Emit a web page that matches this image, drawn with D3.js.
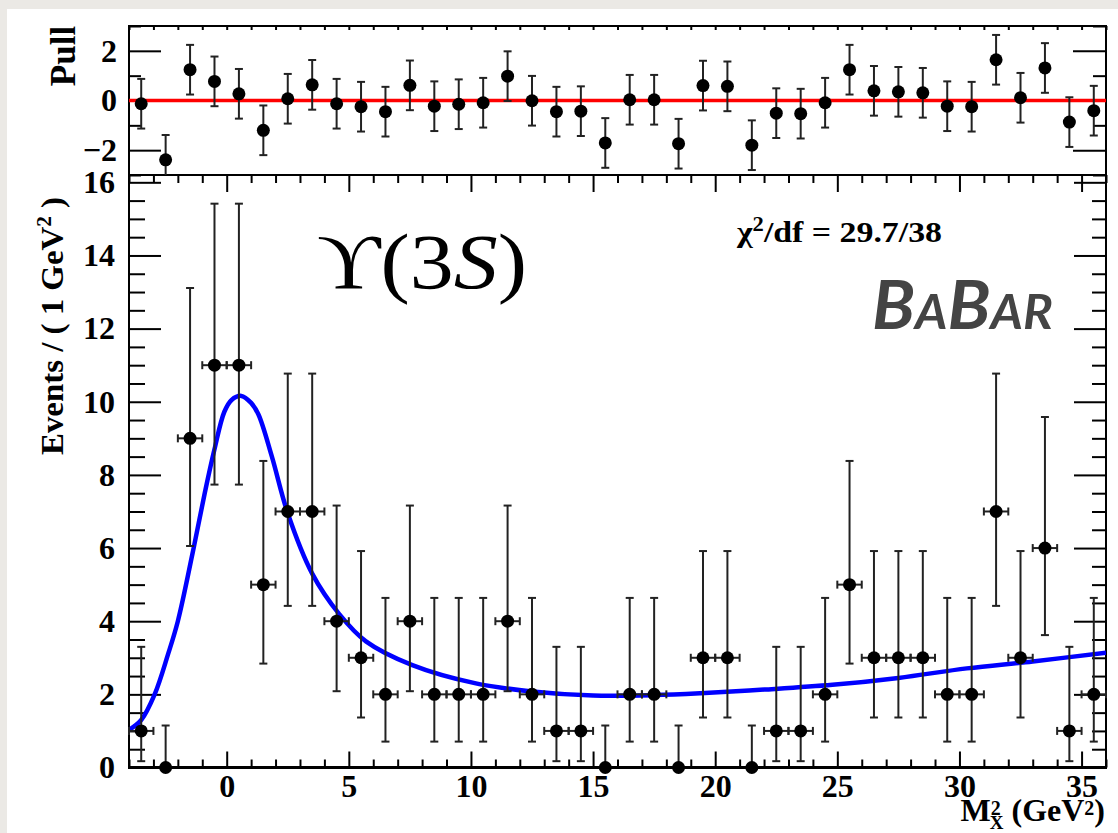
<!DOCTYPE html>
<html>
<head>
<meta charset="utf-8">
<script src="https://cdn.jsdelivr.net/npm/d3@7"></script>
<style>
  html, body { margin: 0; padding: 0; background: #ebe9e5; }
  svg { display: block; }
  .tick text { font-family: 'Liberation Serif', serif; font-weight: bold; font-size: 32px; fill: #000; }
</style>
</head>
<body>
<svg id="chart_svg" width="1118" height="833"></svg>
<script>
// bin centres of the M_X^2 histogram (GeV^2)
const bin_centers = [
  -3.5, -2.5, -1.5, -0.5, 0.5, 1.5, 2.5, 3.5, 4.5, 5.5,
  6.5, 7.5, 8.5, 9.5, 10.5, 11.5, 12.5, 13.5, 14.5, 15.5,
  16.5, 17.5, 18.5, 19.5, 20.5, 21.5, 22.5, 23.5, 24.5, 25.5,
  26.5, 27.5, 28.5, 29.5, 30.5, 31.5, 32.5, 33.5, 34.5, 35.5
];

// events per bin
const events = [
  1, 0, 9, 11, 11, 5, 7, 7, 4, 3,
  2, 4, 2, 2, 2, 4, 2, 1, 1, 0,
  2, 2, 0, 3, 3, 0, 1, 1, 2, 5,
  3, 3, 3, 2, 2, 7, 3, 6, 1, 2
];

// poisson error bars, by count
const poisson_n = [0, 1, 2, 3, 4, 5, 6, 7, 9, 11];
const poisson_lo = [0, 0.827, 1.292, 1.633, 1.914, 2.159, 2.380, 2.581, 2.944, 3.265];
const poisson_hi = [1.148, 2.299, 2.637, 2.918, 3.162, 3.382, 3.583, 3.770, 4.110, 4.416];

// pull per bin (error bars are +-1)
const pulls = [
  -0.13, -2.39, 1.24, 0.77, 0.27, -1.20, 0.07, 0.63, -0.13, -0.25,
  -0.45, 0.61, -0.23, -0.15, -0.09, 0.98, -0.01, -0.45, -0.43, -1.71,
  0.03, 0.03, -1.74, 0.60, 0.57, -1.80, -0.51, -0.53, -0.09, 1.24,
  0.39, 0.35, 0.31, -0.23, -0.25, 1.64, 0.11, 1.31, -0.87, -0.41
];

// fit curve
const fit_x = [-4, -3.5, -2.95, -2.4, -2, -1.4, -0.9, -0.5, -0.1, 0.2, 0.6, 1.0, 1.3, 1.85, 2.5, 3.5, 4.6, 5.7,
  7.6, 10.2, 12.5, 15, 17.5, 19.4, 22, 24.8, 27.5, 30.3, 33, 36];
const fit_y = [1.03, 1.3, 2.0, 3.1, 4.0, 5.85, 7.5, 8.7, 9.72, 10.05, 10.16, 9.97, 9.65, 8.5, 6.95, 5.3, 4.2, 3.45,
  2.8, 2.3, 2.08, 1.97, 1.98, 2.03, 2.13, 2.26, 2.45, 2.71, 2.9, 3.14];

const x_major = [0, 5, 10, 15, 20, 25, 30, 35];
const y_major = [0, 2, 4, 6, 8, 10, 12, 14, 16];
const pull_major = [-2, 0, 2];

/**
 * Layout of the two pads.
 */
const left = 129, right = 1106;
const pull_top = 26, pull_bottom = 175;
const main_top = 175, main_bottom = 767.5;
const serif = "'Liberation Serif', 'Times New Roman', serif";

let svg = d3.select('#chart_svg');

// white card on grey page
svg.append('rect').attr('x', 7).attr('y', 9).attr('width', 1111).attr('height', 824).attr('fill', '#fff');

/**
 * Scales
 */
const xScale = d3.scaleLinear().domain([-4, 36]).range([left, right]);
const yScale = d3.scaleLinear().domain([0, 16.2]).range([main_bottom, main_top]);
const pScale = d3.scaleLinear().domain([-3, 3]).range([pull_bottom, pull_top]);

const err_lo = (n) => poisson_lo[poisson_n.indexOf(n)];
const err_hi = (n) => poisson_hi[poisson_n.indexOf(n)];

let defs = svg.append('defs');
defs.append('clipPath').attr('id', 'clip_main')
  .append('rect').attr('x', left).attr('y', main_top).attr('width', right - left).attr('height', main_bottom - main_top);
defs.append('clipPath').attr('id', 'clip_pull')
  .append('rect').attr('x', left).attr('y', pull_top).attr('width', right - left).attr('height', pull_bottom - pull_top);

/**
 * Axes of the main pad
 */
function style_axis(g, width) {
  g.selectAll('.domain').remove();
  g.selectAll('.tick line').attr('stroke', '#000').attr('stroke-width', width);
}

let x_minor = d3.range(-4, 37, 1).filter((d) => d % 5 !== 0);
let y_minor = d3.range(0, 16.3, 0.5).filter((d) => d % 2 !== 0);
let pull_minor = [-3, -1, 1, 3];

svg.append('g').attr('transform', `translate(0,${main_bottom})`)
  .call(d3.axisBottom(xScale).tickValues(x_major).tickSizeInner(-16).tickSizeOuter(0).tickPadding(7).tickFormat(d3.format('d')))
  .call((g) => style_axis(g, 2));
svg.append('g').attr('transform', `translate(0,${main_bottom})`)
  .call(d3.axisBottom(xScale).tickValues(x_minor).tickSizeInner(-8).tickSizeOuter(0).tickFormat(''))
  .call((g) => style_axis(g, 2));
svg.append('g').attr('transform', `translate(0,${main_top})`)
  .call(d3.axisTop(xScale).tickValues(x_major).tickSizeInner(-17).tickSizeOuter(0).tickFormat(''))
  .call((g) => style_axis(g, 2));
svg.append('g').attr('transform', `translate(0,${main_top})`)
  .call(d3.axisTop(xScale).tickValues(x_minor).tickSizeInner(-8).tickSizeOuter(0).tickFormat(''))
  .call((g) => style_axis(g, 2));

svg.append('g').attr('transform', `translate(${left},0)`)
  .call(d3.axisLeft(yScale).tickValues(y_major).tickSizeInner(-32).tickSizeOuter(0).tickPadding(14).tickFormat(d3.format('d')))
  .call((g) => style_axis(g, 2));
svg.append('g').attr('transform', `translate(${left},0)`)
  .call(d3.axisLeft(yScale).tickValues(y_minor).tickSizeInner(-16).tickSizeOuter(0).tickFormat(''))
  .call((g) => style_axis(g, 2));
svg.append('g').attr('transform', `translate(${right},0)`)
  .call(d3.axisRight(yScale).tickValues(y_major).tickSizeInner(-32).tickSizeOuter(0).tickFormat(''))
  .call((g) => style_axis(g, 2));
svg.append('g').attr('transform', `translate(${right},0)`)
  .call(d3.axisRight(yScale).tickValues(y_minor).tickSizeInner(-14).tickSizeOuter(0).tickFormat(''))
  .call((g) => style_axis(g, 2));

/**
 * Axes of the pull pad
 */
svg.append('g').attr('transform', `translate(0,${pull_top})`)
  .call(d3.axisTop(xScale).tickValues(x_major.concat(x_minor)).tickSizeInner(-4).tickSizeOuter(0).tickFormat(''))
  .call((g) => style_axis(g, 2));
svg.append('g').attr('transform', `translate(${left},0)`)
  .call(d3.axisLeft(pScale).tickValues(pull_major).tickSizeInner(-32).tickSizeOuter(0).tickPadding(12).tickFormat(d3.format('d')))
  .call((g) => style_axis(g, 2));
svg.append('g').attr('transform', `translate(${left},0)`)
  .call(d3.axisLeft(pScale).tickValues(pull_minor).tickSizeInner(-12).tickSizeOuter(0).tickFormat(''))
  .call((g) => style_axis(g, 2));
svg.append('g').attr('transform', `translate(${right},0)`)
  .call(d3.axisRight(pScale).tickValues(pull_major).tickSizeInner(-33).tickSizeOuter(0).tickFormat(''))
  .call((g) => style_axis(g, 2));
svg.append('g').attr('transform', `translate(${right},0)`)
  .call(d3.axisRight(pScale).tickValues(pull_minor).tickSizeInner(-13).tickSizeOuter(0).tickFormat(''))
  .call((g) => style_axis(g, 2));

// frames
svg.append('rect').attr('x', left).attr('y', pull_top).attr('width', right - left).attr('height', pull_bottom - pull_top)
  .attr('fill', 'none').attr('stroke', '#000').attr('stroke-width', 2);
svg.append('rect').attr('x', left).attr('y', main_top).attr('width', right - left).attr('height', main_bottom - main_top)
  .attr('fill', 'none').attr('stroke', '#000').attr('stroke-width', 2);
svg.append('line').attr('x1', left - 1).attr('x2', right + 1).attr('y1', main_bottom).attr('y2', main_bottom)
  .attr('stroke', '#000').attr('stroke-width', 3);

/**
 * Pull pad: zero line and points
 */
let g_pull = svg.append('g').attr('clip-path', 'url(#clip_pull)');
g_pull.append('line').attr('x1', left).attr('x2', right).attr('y1', pScale(0)).attr('y2', pScale(0))
  .attr('stroke', '#ff0000').attr('stroke-width', 3.5);

let pull_pts = g_pull.selectAll('.pull_pt').data(bin_centers.map((c, i) => [c, pulls[i]]))
  .enter().append('g').attr('class', 'pull_pt');
pull_pts.append('line')
  .attr('x1', (d) => xScale(d[0])).attr('x2', (d) => xScale(d[0]))
  .attr('y1', (d) => pScale(d[1] - 1)).attr('y2', (d) => pScale(d[1] + 1))
  .attr('stroke', '#222').attr('stroke-width', 2);
[-1, 1].forEach((s) => {
  pull_pts.append('line')
    .attr('x1', (d) => xScale(d[0]) - 4).attr('x2', (d) => xScale(d[0]) + 4)
    .attr('y1', (d) => pScale(d[1] + s)).attr('y2', (d) => pScale(d[1] + s))
    .attr('stroke', '#222').attr('stroke-width', 2);
});
pull_pts.append('circle')
  .attr('cx', (d) => xScale(d[0])).attr('cy', (d) => pScale(d[1])).attr('r', 6.5).attr('fill', '#000');

/**
 * Main pad: fit curve and data
 */
let g_main = svg.append('g').attr('clip-path', 'url(#clip_main)');

let data_pts = svg.selectAll('.data_pt').data(bin_centers.map((c, i) => [c, events[i]]))
  .enter().append('g').attr('class', 'data_pt');
data_pts.append('line')
  .attr('x1', (d) => xScale(d[0])).attr('x2', (d) => xScale(d[0]))
  .attr('y1', (d) => yScale(d[1] - err_lo(d[1]))).attr('y2', (d) => yScale(d[1] + err_hi(d[1])))
  .attr('stroke', '#222').attr('stroke-width', 2);
data_pts.filter((d) => d[1] > 0).append('line')
  .attr('x1', (d) => xScale(d[0]) - 4).attr('x2', (d) => xScale(d[0]) + 4)
  .attr('y1', (d) => yScale(d[1] - err_lo(d[1]))).attr('y2', (d) => yScale(d[1] - err_lo(d[1])))
  .attr('stroke', '#222').attr('stroke-width', 2);
data_pts.append('line')
  .attr('x1', (d) => xScale(d[0]) - 4).attr('x2', (d) => xScale(d[0]) + 4)
  .attr('y1', (d) => yScale(d[1] + err_hi(d[1]))).attr('y2', (d) => yScale(d[1] + err_hi(d[1])))
  .attr('stroke', '#222').attr('stroke-width', 2);
data_pts.filter((d) => d[1] > 0).append('line')
  .attr('x1', (d) => xScale(d[0] - 0.5)).attr('x2', (d) => xScale(d[0] + 0.5))
  .attr('y1', (d) => yScale(d[1])).attr('y2', (d) => yScale(d[1]))
  .attr('stroke', '#222').attr('stroke-width', 2);
[-0.5, 0.5].forEach((s) => {
  data_pts.filter((d) => d[1] > 0).append('line')
    .attr('x1', (d) => xScale(d[0] + s)).attr('x2', (d) => xScale(d[0] + s))
    .attr('y1', (d) => yScale(d[1]) - 4).attr('y2', (d) => yScale(d[1]) + 4)
    .attr('stroke', '#222').attr('stroke-width', 2);
});

let fit_line = d3.line().x((d) => xScale(d[0])).y((d) => yScale(d[1])).curve(d3.curveCatmullRom.alpha(0.5));
g_main.append('path')
  .datum(fit_x.map((x, i) => [x, fit_y[i]]))
  .attr('d', fit_line)
  .attr('fill', 'none').attr('stroke', '#0000ff').attr('stroke-width', 4.5);

data_pts.append('circle')
  .attr('cx', (d) => xScale(d[0])).attr('cy', (d) => yScale(d[1])).attr('r', 6.5).attr('fill', '#000');

/**
 * Axis titles and annotations
 */
svg.append('text')
  .attr('transform', 'rotate(-90)')
  .attr('x', -56).attr('y', 75)
  .attr('text-anchor', 'middle')
  .attr('font-family', serif).attr('font-weight', 'bold').attr('font-size', 35)
  .text('Pull');

let y_title = svg.append('text')
  .attr('transform', 'rotate(-90)')
  .attr('x', -326).attr('y', 63)
  .attr('text-anchor', 'middle')
  .attr('font-family', serif).attr('font-weight', 'bold').attr('font-size', 31)
  .attr('textLength', 258).attr('lengthAdjust', 'spacingAndGlyphs');
y_title.append('tspan').text('Events / ( 1 GeV');
y_title.append('tspan').attr('dy', -12).attr('font-size', 20).text('2');
y_title.append('tspan').attr('dy', 12).text(' )');

let x_title = svg.append('text')
  .attr('x', 1105).attr('y', 821)
  .attr('text-anchor', 'end')
  .attr('font-family', serif).attr('font-weight', 'bold').attr('font-size', 32);
x_title.append('tspan').text('M');
x_title.append('tspan').attr('dy', -6).attr('font-size', 20).text('2');
x_title.append('tspan').attr('dx', -11).attr('dy', 14).attr('font-size', 19).text('X');
x_title.append('tspan').attr('dy', -8).text(' (GeV');
x_title.append('tspan').attr('dy', -6).attr('font-size', 20).text('2');
x_title.append('tspan').attr('dy', 6).text(')');

let chi = svg.append('text')
  .attr('x', 737).attr('y', 242)
  .attr('font-family', serif).attr('font-weight', 'bold').attr('font-size', 30)
  .attr('textLength', 205).attr('lengthAdjust', 'spacingAndGlyphs');
chi.append('tspan').text('χ');
chi.append('tspan').attr('dy', -11).attr('font-size', 20).text('2');
chi.append('tspan').attr('dy', 11).text('/df = 29.7/38');

let ups = svg.append('text')
  .attr('x', 317).attr('y', 288)
  .attr('font-family', serif).attr('font-size', 78)
  .attr('textLength', 210).attr('lengthAdjust', 'spacingAndGlyphs');
ups.append('tspan').text('ϒ(3');
ups.append('tspan').attr('font-style', 'italic').text('S');
ups.append('tspan').text(')');

let babar = svg.append('text')
  .attr('x', 1053).attr('y', 329)
  .attr('text-anchor', 'end')
  .attr('font-family', "Lato, 'Open Sans', sans-serif").attr('font-weight', 'bold').attr('font-style', 'italic')
  .attr('fill', '#444')
  .attr('textLength', 181).attr('lengthAdjust', 'spacingAndGlyphs');
babar.append('tspan').attr('font-size', 66).text('B');
babar.append('tspan').attr('font-size', 47).text('A');
babar.append('tspan').attr('font-size', 66).text('B');
babar.append('tspan').attr('font-size', 47).text('AR');
</script>
</body>
</html>
